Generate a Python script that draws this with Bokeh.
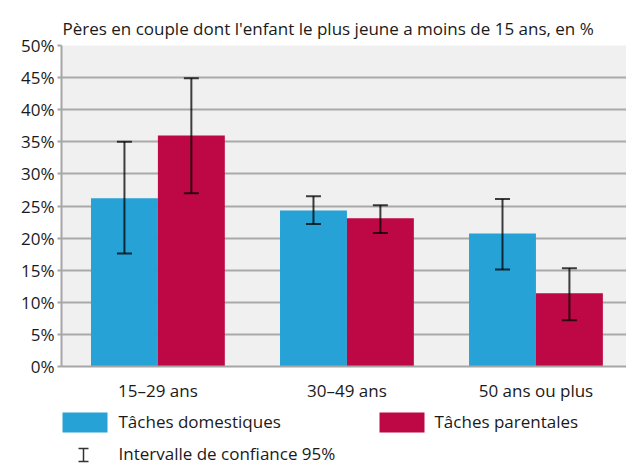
from bokeh.plotting import figure
from bokeh.models import (ColumnDataSource, Range1d, FixedTicker, PrintfTickFormatter,
                          Whisker, TeeHead)
from bokeh.layouts import column
from bokeh.core.properties import value
from bokeh.embed import file_html
from bokeh.resources import INLINE

categories = ["15–29 ans", "30–49 ans", "50 ans ou plus"]
domestiques = [26.2, 24.3, 20.7]
dom_low = [17.6, 22.2, 15.1]
dom_high = [35.0, 26.5, 26.1]
parentales = [36.0, 23.1, 11.4]
par_low = [27.0, 20.8, 7.2]
par_high = [44.9, 25.1, 15.3]
y_ticks = [0, 5, 10, 15, 20, 25, 30, 35, 40, 45, 50]

title_text = "Pères en couple dont l'enfant le plus jeune a moins de 15 ans, en %"
legend_labels = ["Tâches domestiques", "Tâches parentales", "Intervalle de confiance 95%"]

BLUE = "#27a2d6"
RED = "#be0745"
FONT = "Open Sans"
TXT = "#1a1a1a"
FS = "17px"

W = 0.354
idx = list(range(len(categories)))
src_d = ColumnDataSource(dict(x=[i - W / 2 for i in idx], top=domestiques, lo=dom_low, hi=dom_high))
src_p = ColumnDataSource(dict(x=[i + W / 2 for i in idx], top=parentales, lo=par_low, hi=par_high))

FIG_W = 626
p = figure(width=FIG_W, height=406, output_backend="svg", toolbar_location=None,
           x_range=Range1d(-0.51, 2.479), y_range=Range1d(0, 50),
           min_border_left=61, min_border_right=0, min_border_top=45, min_border_bottom=40)
p.background_fill_color = "#f0f0f0"
p.border_fill_color = "white"
p.outline_line_color = None

p.title.text = title_text
p.title.text_font = FONT
p.title.text_font_size = FS
p.title.text_font_style = "normal"
p.title.text_color = TXT
p.title.align = "left"
p.title.offset = 1
p.title.standoff = 11

p.vbar(x="x", top="top", width=W, bottom=0, source=src_d, fill_color=BLUE, line_color=None)
p.vbar(x="x", top="top", width=W, bottom=0, source=src_p, fill_color=RED, line_color=None)

for src in (src_d, src_p):
    wk = Whisker(base="x", lower="lo", upper="hi", source=src, level="overlay",
                 line_color="black", line_alpha=0.75, line_width=2,
                 lower_head=TeeHead(size=15, line_color="black", line_alpha=0.75, line_width=2),
                 upper_head=TeeHead(size=15, line_color="black", line_alpha=0.75, line_width=2))
    p.add_layout(wk)

p.xgrid.grid_line_color = None
p.ygrid.grid_line_color = "#a9a9a9"
p.ygrid.grid_line_width = 2
p.ygrid.ticker = FixedTicker(ticks=y_ticks)

p.yaxis.ticker = FixedTicker(ticks=y_ticks)
p.yaxis.formatter = PrintfTickFormatter(format="%d%%")
p.yaxis.axis_line_color = "#a6a6a6"
p.yaxis.axis_line_width = 2
p.yaxis.major_tick_line_color = "#a6a6a6"
p.yaxis.major_tick_line_width = 2
p.yaxis.major_tick_out = 4
p.yaxis.major_tick_in = 0
p.yaxis.minor_tick_line_color = None
p.yaxis.major_label_text_font = FONT
p.yaxis.major_label_text_font_size = FS
p.yaxis.major_label_text_color = TXT
p.yaxis.major_label_standoff = 3

p.xaxis.ticker = FixedTicker(ticks=idx)
p.xaxis.major_label_overrides = {i: c for i, c in zip(idx, categories)}
p.xaxis.axis_line_color = "#a6a6a6"
p.xaxis.axis_line_width = 2
p.xaxis.major_tick_line_color = None
p.xaxis.minor_tick_line_color = None
p.xaxis.major_label_text_font = FONT
p.xaxis.major_label_text_font_size = FS
p.xaxis.major_label_text_color = TXT
p.xaxis.major_label_standoff = 6

# Legend panel: its frame is aligned with the main frame (left edge at 61 px)
lg = figure(width=FIG_W, height=58, output_backend="svg", toolbar_location=None,
            x_axis_location=None, y_axis_location=None,
            x_range=Range1d(61, FIG_W), y_range=Range1d(464, 406),
            min_border=0, min_border_left=61, min_border_right=0, min_border_top=0, min_border_bottom=0)
lg.grid.visible = False
lg.outline_line_color = None
lg.background_fill_color = "white"
lg.border_fill_color = "white"

lg.quad(left=[62], right=[107], top=[412], bottom=[432], fill_color=BLUE, line_color=None)
lg.quad(left=[379], right=[424], top=[412], bottom=[432], fill_color=RED, line_color=None)
lg.segment(x0=[83, 78, 78], y0=[448, 448, 461], x1=[83, 88, 88], y1=[461, 448, 461],
           line_color="#333333", line_width=1.5)
lg.text(x=[118, 434, 118], y=[421, 421, 453], text=legend_labels,
        text_font=value(FONT), text_font_size=FS, text_color=TXT,
        text_baseline="middle", text_align="left")

layout = column(p, lg, spacing=0)
open("out.html", "w").write(file_html(layout, INLINE))
